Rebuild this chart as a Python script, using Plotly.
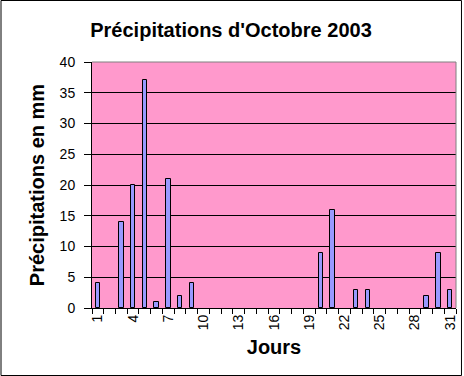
import plotly.graph_objects as go

days = list(range(1, 32))
precip = [4, 0, 14, 20, 37, 1, 21, 2, 4, 0, 0, 0, 0, 0, 0, 0, 0, 0, 0, 9, 16, 0, 3, 3, 0, 0, 0, 0, 2, 9, 3]
x_tick_vals = list(range(1, 32, 3))
y_tick_vals = list(range(0, 41, 5))

FONT = "Liberation Sans, Arial, sans-serif"

fig = go.Figure(go.Bar(
    x=days, y=precip, width=0.38,
    marker=dict(color="#9999ff",
                line=dict(color="black", width=[1 if v > 0 else 0 for v in precip])),
))

W, H = 464, 376
L, R, T, B = 92, 6, 62, 68
pw, ph = W - L - R, H - T - B

fig.update_layout(
    width=W, height=H,
    margin=dict(l=L, r=R, t=T, b=B, pad=0),
    paper_bgcolor="white", plot_bgcolor="#ff99cc",
    showlegend=False,
    bargap=0,
    font=dict(family=FONT, size=14, color="black"),
    title=dict(text="<b>Précipitations d'Octobre 2003</b>", x=231 / W,
               xref="container", xanchor="center", y=1 - 30 / H, yanchor="middle",
               font=dict(family=FONT, size=20, color="black")),
    xaxis=dict(range=[0.5, 31.5], tickmode="array", tickvals=x_tick_vals,
               ticktext=[str(v) for v in x_tick_vals], tickangle=-90,
               ticks="", showgrid=False, zeroline=False,
               showline=True, linecolor="black", linewidth=1,
               minor=dict(tickmode="linear", tick0=0.5, dtick=1, ticks="outside",
                          ticklen=5, tickcolor="black", showgrid=False),
               tickfont=dict(family=FONT, size=14),
               title=dict(text="<b>Jours</b>", font=dict(family=FONT, size=20), standoff=10)),
    yaxis=dict(range=[0, 40], tickmode="array", tickvals=y_tick_vals,
               ticks="outside", ticklen=7, tickcolor="black", ticklabelstandoff=6,
               showgrid=True, gridcolor="black", gridwidth=1, zeroline=False,
               showline=True, linecolor="black", linewidth=1,
               tickfont=dict(family=FONT, size=14),
               title=dict(text="<b>Précipitations en mm</b>", font=dict(family=FONT, size=20), standoff=9)),
    shapes=[
        dict(type="line", xref="paper", yref="paper", x0=0, x1=1, y0=1, y1=1,
             line=dict(color="#808080", width=1)),
        dict(type="line", xref="paper", yref="paper", x0=1, x1=1, y0=0, y1=1,
             line=dict(color="#808080", width=1)),
        dict(type="rect", xref="paper", yref="paper",
             x0=(0.5 - L) / pw, x1=(W - 0.5 - L) / pw,
             y0=(T + ph - (H - 0.5)) / ph, y1=(T + ph - 0.5) / ph,
             line=dict(color="black", width=1), fillcolor="rgba(0,0,0,0)"),
    ],
)

fig.write_html("out.html", config={"displayModeBar": False},
               post_script="document.body.style.margin='0';document.body.style.overflow='hidden';")
